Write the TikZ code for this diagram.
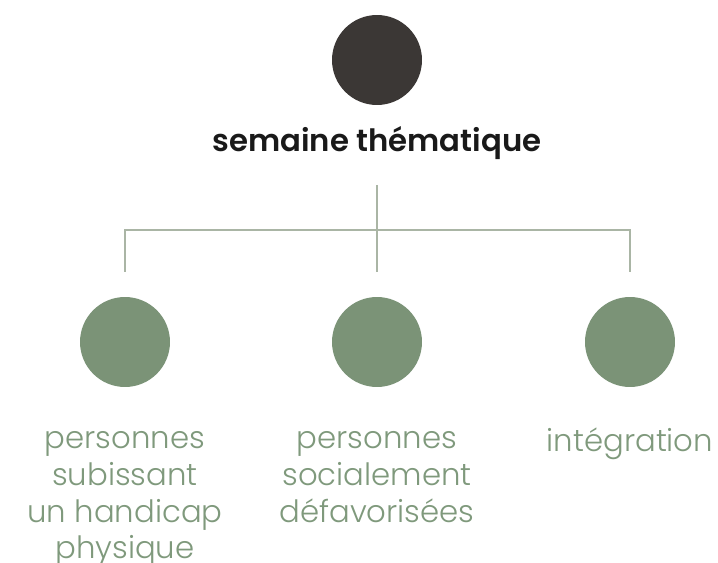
\documentclass[tikz,border=0pt]{standalone}
\usepackage{fontspec}
\setmainfont{Poppins}[UprightFont=* Light, BoldFont=* SemiBold]
\usepackage{xcolor}
\usetikzlibrary{positioning,calc}
\definecolor{darkdot}{HTML}{3B3735}
\definecolor{sage}{HTML}{7B9377}
\definecolor{sagetext}{HTML}{7F997C}
\definecolor{treeline}{HTML}{AAB5A5}

\tikzset{
    dot/.style={circle, minimum size=1.8cm, inner sep=0pt},
    label text/.style={text=sagetext, align=center, font=\fontsize{17.5}{21}\selectfont},
    tree/.style={draw=treeline, line width=0.7pt}
}

\begin{document}
\begin{tikzpicture}[x=0.02cm, y=-0.02cm]

        \useasboundingbox (0, 0) rectangle (718, 563);

        \node[dot, fill=darkdot] (theme) at (377, 60) {};
        \node[font=\fontsize{17.5}{21}\selectfont\bfseries, text=black!90] (title) at (377, 143) {semaine thématique};

        \node[dot, fill=sage] (handicap) at (125, 342) {};
        \node[dot, fill=sage] (social) at (377, 342) {};
        \node[dot, fill=sage] (integ) at (630, 342) {};

        \node[label text, anchor=north] (handicaptext) at (125, 425) {personnes\\subissant\\un handicap\\physique};
        \node[label text, anchor=north] (socialtext) at (377, 425) {personnes\\socialement\\défavorisées};
        \node[label text, anchor=north] (integtext) at (630, 422) {intégration};

        % tree lines
        \coordinate (stem) at (377, 185);
        \coordinate (hub) at (377, 230);
        \draw[tree] (stem) -- ($(social.north)+(0, -25)$);
        \draw[tree] ($(handicap.north)+(0, -25)$) |- (hub) -| ($(integ.north)+(0, -25)$);

    \end{tikzpicture}
\end{document}
